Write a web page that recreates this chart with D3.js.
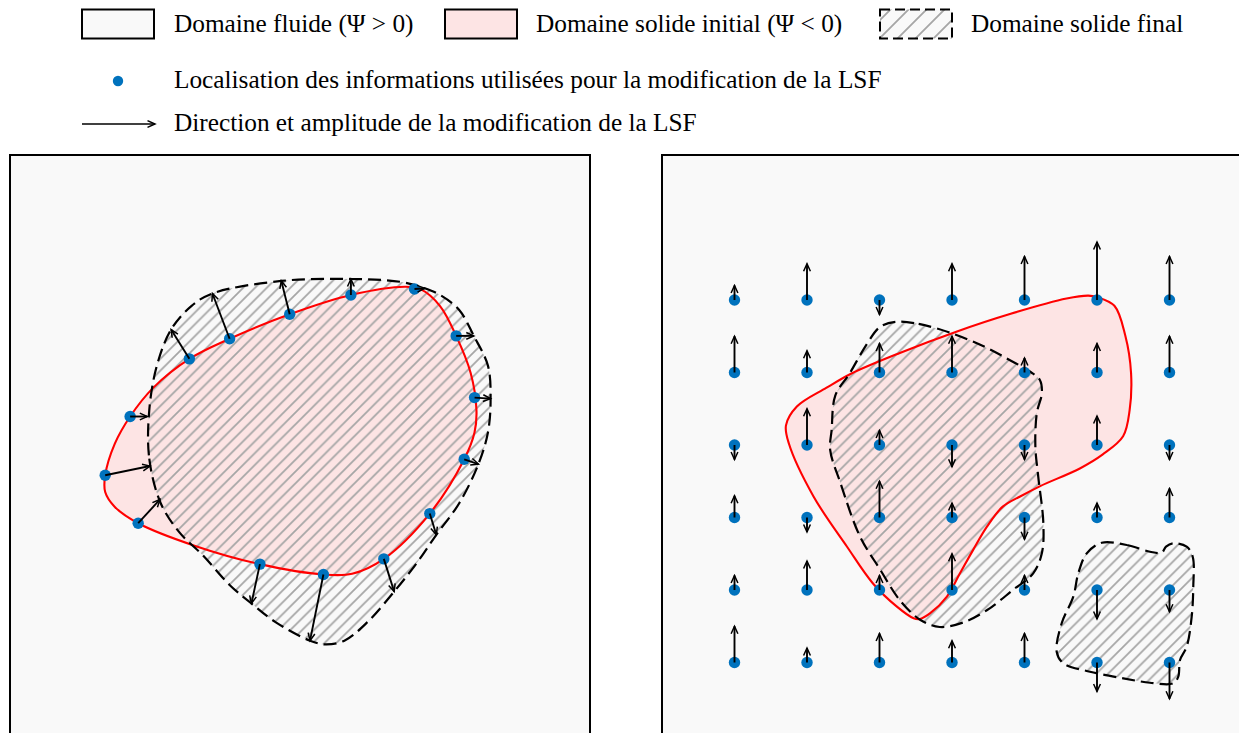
<!DOCTYPE html>
<html><head><meta charset="utf-8">
<script src="https://cdn.jsdelivr.net/npm/d3@7"></script>
<style>html,body{margin:0;padding:0;background:#fff}svg{display:block}</style>
</head><body><svg id="c" width="1239" height="733"></svg>
<script>
// ---------- DATA (panel units 0..8, y up) ----------
const legendLabels = ["Domaine fluide (\u03A8 > 0)", "Domaine solide initial (\u03A8 < 0)", "Domaine solide final",
  "Localisation des informations utilis\u00e9es pour la modification de la LSF",
  "Direction et amplitude de la modification de la LSF"];

// left panel: information points on the initial interface
const leftPoints = [[1.313,3.582],[1.657,4.393],[1.768,2.921],[2.474,5.188],[3.029,5.465],[3.858,5.803],[4.702,6.069],
  [5.579,6.152],[6.154,5.505],[6.408,4.654],[6.265,3.803],[5.790,3.054],[5.156,2.429],[4.323,2.214],[3.447,2.357]];
const leftVectors = [[0.618,0.128],[0.237,0],[0.301,0.328],[-0.252,0.404],[-0.237,0.625],[-0.116,0.461],[0,0.221],
  [0.142,0.01],[0.243,0],[0.221,-0.015],[0.196,-0.066],[0.090,-0.292],[0.143,-0.451],[-0.185,-0.913],[-0.117,-0.543]];
const leftInitial = [[1.313,3.582],[1.446,4.018],[1.657,4.393],[1.974,4.788],[2.474,5.188],[3.029,5.465],[3.858,5.803],
  [4.702,6.069],[5.458,6.182],[5.669,6.146],[5.932,5.916],[6.154,5.505],[6.354,4.993],[6.434,4.480],[6.407,4.172],
  [6.265,3.803],[5.790,3.054],[5.156,2.429],[4.719,2.223],[4.323,2.214],[3.447,2.357],[2.554,2.608],[1.768,2.921],
  [1.446,3.146],[1.313,3.352]];
const leftFinal = [[1.921,4.480],[1.921,3.812],[2.079,3.197],[2.343,2.788],[2.659,2.480],[3.029,2.070],[3.330,1.814],
  [3.662,1.557],[4.138,1.301],[4.349,1.250],[4.612,1.301],[4.930,1.557],[5.299,1.978],[5.615,2.378],[5.880,2.761],
  [6.196,3.197],[6.461,3.737],[6.592,4.172],[6.629,4.639],[6.592,5.095],[6.397,5.505],[6.196,5.863],[5.932,6.069],
  [5.721,6.161],[5.404,6.248],[4.702,6.290],[3.742,6.263],[2.792,6.090],[2.501,5.916],[2.222,5.592],[2.026,5.095]];

// right panel: regular grid of information points
const gridCols = [1,2,3,4,5,6,7];
const gridRows = [6,5,4,3,2,1];
const gridAmplitude = [
  [0.2, 0.5,-0.2, 0.5, 0.6, 0.8, 0.6],
  [0.5, 0.3, 0.4, 0.5, 0.2, 0.4, 0.5],
  [-0.2,0.5, 0.2,-0.3,-0.2, 0.4,-0.2],
  [0.3,-0.2, 0.5, 0.2,-0.3, 0.2, 0.4],
  [0.2, 0.4, 0.2, 0.5, 0.2,-0.4,-0.3],
  [0.5, 0.2, 0.4, 0.3, 0.4,-0.4,-0.5]];
const rightInitial = [[6.00,6.04],[6.24,5.92],[6.39,5.51],[6.47,4.99],[6.45,4.48],[6.36,4.12],[6.08,3.87],[5.77,3.68],
  [5.21,3.43],[4.94,3.29],[4.70,3.15],[4.48,2.87],[4.29,2.55],[4.11,2.23],[3.93,1.91],[3.70,1.68],[3.56,1.60],
  [3.47,1.61],[3.24,1.77],[2.91,2.09],[2.55,2.60],[2.09,3.29],[1.75,4.02],[1.71,4.27],[1.86,4.53],[2.27,4.79],
  [2.62,4.99],[3.28,5.27],[4.05,5.56],[4.81,5.81],[5.58,6.02],[5.88,6.06]];
const rightFinalA = [[3.24,5.70],[3.54,5.67],[4.00,5.54],[4.46,5.35],[4.80,5.17],[5.08,5.01],[5.21,4.90],[5.24,4.72],
  [5.17,4.44],[5.15,3.98],[5.19,3.56],[5.26,2.92],[5.24,2.51],[5.12,2.23],[4.84,2.00],[4.48,1.72],[4.15,1.55],
  [3.83,1.49],[3.56,1.59],[3.28,1.86],[3.01,2.28],[2.73,2.74],[2.46,3.48],[2.32,3.93],[2.34,4.21],[2.39,4.68],
  [2.59,4.99],[2.83,5.40],[3.01,5.63]];
const rightFinalB = [[6.065,2.652],[6.410,2.621],[6.731,2.528],[6.892,2.514],[6.952,2.597],[7.052,2.644],[7.237,2.597],
  [7.320,2.459],[7.328,2.046],[7.306,1.632],[7.237,1.218],[7.145,1.034],[7.121,0.804],[7.052,0.713],[6.731,0.721],
  [6.363,0.782],[5.903,0.873],[5.535,0.989],[5.444,1.149],[5.513,1.541],[5.673,1.908],[5.742,2.230],[5.858,2.506]];

// ---------- STYLE ----------
const BLUE = "#0072bd", RED = "#ff0000", PINK = "#fde4e4", BG = "#f9f9f9", HATCH = "#a6a6a6";
const FONT = "'Liberation Serif','Times New Roman',serif";

const svg = d3.select("#c");
const defs = svg.append("defs");
function hatch(id, s, w) {
  const p = defs.append("pattern").attr("id", id).attr("patternUnits", "userSpaceOnUse")
    .attr("width", s).attr("height", s);
  p.append("path").attr("d", `M${-s/2},${s/2}L${s/2},${-s/2}M0,${s}L${s},0M${s/2},${1.5*s}L${1.5*s},${s/2}`)
    .attr("stroke", HATCH).attr("stroke-width", w).attr("fill", "none");
}
hatch("hatch", 11.8, 1.8);
hatch("hatchLeg", 18, 1.8);
defs.append("marker").attr("id", "ah").attr("markerUnits", "userSpaceOnUse")
  .attr("markerWidth", 14).attr("markerHeight", 14).attr("viewBox", "-12 -7 14 14")
  .attr("refX", 0).attr("refY", 0).attr("orient", "auto")
  .append("path").attr("d", "M-7.5,-3.4L0,0L-7.5,3.4").attr("fill", "none")
  .attr("stroke", "#000").attr("stroke-width", 1.5);

function panel(x0, initial, finals, points, vecs) {
  const x = d3.scaleLinear().domain([0, 8]).range([x0, x0 + 580]);
  const y = d3.scaleLinear().domain([0, 8]).range([735, 155]);
  const g = svg.append("g");
  g.append("rect").attr("x", x(0)).attr("y", y(8)).attr("width", x(8) - x(0)).attr("height", y(0) - y(8))
    .attr("fill", BG);
  const line = d3.line().x(d => x(d[0])).y(d => y(d[1])).curve(d3.curveCatmullRomClosed.alpha(0.5));
  g.append("path").attr("d", line(initial)).attr("fill", PINK);
  finals.forEach(f => g.append("path").attr("d", line(f)).attr("fill", "url(#hatch)"));
  g.append("path").attr("d", line(initial)).attr("fill", "none").attr("stroke", RED).attr("stroke-width", 2.1);
  finals.forEach(f => g.append("path").attr("d", line(f)).attr("fill", "none").attr("stroke", "#000")
    .attr("stroke-width", 2.2).attr("stroke-dasharray", "13,6"));
  g.selectAll("circle.pt").data(points).enter().append("circle").attr("class", "pt")
    .attr("cx", d => x(d[0])).attr("cy", d => y(d[1])).attr("r", 5.7).attr("fill", BLUE);
  g.selectAll("line.vec").data(points).enter().append("line").attr("class", "vec")
    .attr("x1", d => x(d[0])).attr("y1", d => y(d[1]))
    .attr("x2", (d, i) => x(d[0] + vecs[i][0])).attr("y2", (d, i) => y(d[1] + vecs[i][1]))
    .attr("stroke", "#000").attr("stroke-width", 1.9).attr("marker-end", "url(#ah)");
  g.append("rect").attr("x", x(0)).attr("y", y(8)).attr("width", x(8) - x(0)).attr("height", y(0) - y(8))
    .attr("fill", "none").attr("stroke", "#000").attr("stroke-width", 2);
}

panel(10, leftInitial, [leftFinal], leftPoints, leftVectors);

const gridPoints = [], gridVecs = [];
gridRows.forEach((r, i) => gridCols.forEach((c, j) => {
  gridPoints.push([c, r]); gridVecs.push([0, gridAmplitude[i][j]]);
}));
panel(662, rightInitial, [rightFinalA, rightFinalB], gridPoints, gridVecs);

// ---------- LEGEND ----------
const leg = svg.append("g");
const boxes = [{x: 82, fill: BG, dash: null, label: legendLabels[0], tx: 174},
               {x: 445, fill: PINK, dash: null, label: legendLabels[1], tx: 536},
               {x: 880, fill: "url(#hatchLeg)", dash: "10,5", label: legendLabels[2], tx: 971}];
boxes.forEach(b => {
  if (b.dash) leg.append("rect").attr("x", b.x).attr("y", 9.5).attr("width", 72).attr("height", 29).attr("fill", BG);
  leg.append("rect").attr("x", b.x).attr("y", 9.5).attr("width", 72).attr("height", 29)
    .attr("fill", b.fill).attr("stroke", "#000").attr("stroke-width", 2)
    .attr("stroke-dasharray", b.dash);
  leg.append("text").attr("x", b.tx).attr("y", 31.5).text(b.label);
});
leg.append("circle").attr("cx", 118).attr("cy", 81).attr("r", 5.2).attr("fill", BLUE);
leg.append("text").attr("x", 174).attr("y", 88).text(legendLabels[3]);
leg.append("line").attr("x1", 82).attr("y1", 124).attr("x2", 155).attr("y2", 124)
  .attr("stroke", "#000").attr("stroke-width", 1.7).attr("marker-end", "url(#ah)");
leg.append("text").attr("x", 174).attr("y", 131).text(legendLabels[4]);
leg.selectAll("text").attr("font-family", FONT).attr("font-size", 25.3).attr("fill", "#000");
</script></body></html>
